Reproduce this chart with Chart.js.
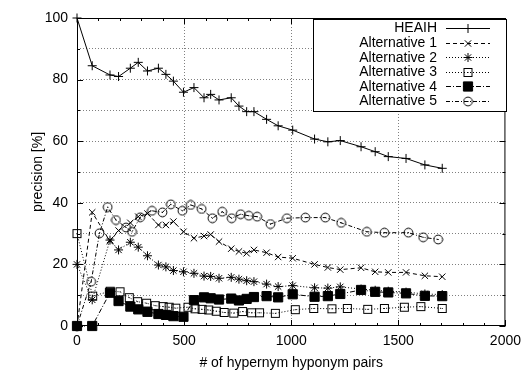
<!DOCTYPE html>
<html>
<head>
<meta charset="utf-8">
<script src="https://cdn.jsdelivr.net/npm/chart.js@4/dist/chart.umd.min.js"></script>
<style>
  html, body { margin: 0; padding: 0; background: #fff; }
  #wrap { width: 528px; height: 370px; }
</style>
</head>
<body>
<div id="wrap"><canvas id="c" width="528" height="370"></canvas></div>
<script>
// ---- data ----
const seriesNames = ['HEAIH', 'Alternative 1', 'Alternative 2', 'Alternative 3', 'Alternative 4', 'Alternative 5'];
const sharedX = [0,71,154,194,249,286,329,380,415,450,497,546,593,624,663,720,756,792,826,885,939,1007,1109,1171,1229,1326,1392,1453,1536,1624,1705];
const heaihY = [100,84.5,81.5,81,83.7,85.6,82.8,83.7,81.7,79.5,75.9,77.4,74.1,75.2,73.4,74.1,71.4,69.6,69.6,67.1,65,63.6,60.7,59.8,60.2,58.2,56.6,55,54.4,52.3,51.2];
const alt1Y = [0,36.9,27.5,31,33.5,35.5,36.5,32.8,32.8,33.9,30.6,28.5,29.2,29.7,27.4,25.1,24.2,23.6,24.7,23.8,22.4,22,20,19,18.3,18.9,17.6,17.4,17.4,16.3,16];
const alt2Y = [20,8.5,27.9,24.7,27.2,25.6,22.8,19.8,19.2,18,17.6,17.1,16.2,16.1,15.5,15.8,15.2,14.7,14.4,13.6,12.8,13.1,12.4,12.3,12.7,12.0,11.6,11.3,11.0,10.4,10.2];
const alt4Y = [0,0,10.8,8.1,6.3,5.4,4.6,3.9,3.6,3.2,3.0,8.4,9.3,9.0,8.6,8.9,8.3,8.8,9.4,9.7,9.3,10.3,9.5,9.7,10.4,11.7,11.1,10.9,10.6,9.8,9.7];
const alt3X = [0,73,155,201,244,283,325,365,402,430,461,518,551,584,615,650,687,732,773,815,852,926,1019,1105,1190,1262,1357,1435,1528,1605,1705];
const alt3Y = [30,9.7,11.3,11.1,9.2,7.9,7.4,6.6,6.3,6.1,5.8,6.1,5.6,5.4,5.2,4.8,4.4,4.2,4.7,4.3,4.3,4.1,5.3,5.7,5.6,5.7,5.4,5.7,6.1,6.3,5.7];
const alt5X = [0,66,105,143,182,229,257,295,350,399,438,492,531,582,632,678,722,764,802,841,903,980,1066,1159,1233,1353,1435,1547,1616,1686];
const alt5Y = [0,14.4,30.1,38.6,34.4,32,30.6,35.3,37.4,36.9,39.5,37.4,39.3,38,35,37.1,35,36.3,35.8,35.5,33.1,35,35.2,35.2,33.5,30.6,30.3,30.3,28.8,28.1];
const xTickLabels = [0, 500, 1000, 1500, 2000];
const yTickLabels = [0, 20, 40, 60, 80, 100];
const xTitle = '# of hypernym hyponym pairs';
const yTitle = 'precision [%]';

const FONT = '"Liberation Sans", Arial, Helvetica, sans-serif';

function pts(xs, ys) { return xs.map((x, i) => ({ x: x, y: ys[i] })); }

// marker images (gnuplot style with centre dot)
function boxDot() {
  const c = document.createElement('canvas'); c.width = 11; c.height = 11;
  const g = c.getContext('2d');
  g.strokeStyle = '#000'; g.lineWidth = 1;
  g.strokeRect(1.5, 1.5, 8, 8);
  g.fillStyle = '#000'; g.fillRect(5, 5, 1, 1);
  return c;
}
function circDot() {
  const c = document.createElement('canvas'); c.width = 11; c.height = 11;
  const g = c.getContext('2d');
  g.strokeStyle = '#000'; g.lineWidth = 1;
  g.beginPath(); g.arc(5.5, 5.5, 4.4, 0, Math.PI * 2); g.stroke();
  g.fillStyle = '#000'; g.fillRect(5, 5, 1, 1);
  return c;
}
const boxImg = boxDot();
const circImg = circDot();

const datasets = [
  { label: seriesNames[0], data: pts(sharedX, heaihY), borderDash: [], pointStyle: 'cross', pointRadius: 4.5, order: 1 },
  { label: seriesNames[1], data: pts(sharedX, alt1Y), borderDash: [4, 3], pointStyle: 'crossRot', pointRadius: 4.5, order: 2 },
  { label: seriesNames[2], data: pts(sharedX, alt2Y), borderDash: [1, 2], pointStyle: 'star', pointRadius: 4.5, order: 3 },
  { label: seriesNames[3], data: pts(alt3X, alt3Y), borderDash: [1, 2], pointStyle: boxImg, pointRadius: 5, order: 5 },
  { label: seriesNames[4], data: pts(sharedX, alt4Y), borderDash: [5, 2, 1, 2], pointStyle: 'rect', pointRadius: 6.5, order: 0, filled: true },
  { label: seriesNames[5], data: pts(alt5X, alt5Y), borderDash: [4, 2, 1, 2], pointStyle: circImg, pointRadius: 5, order: 4 }
].map(d => Object.assign({
  showLine: true,
  borderColor: '#000',
  borderWidth: 1,
  backgroundColor: d.filled ? '#000' : 'rgba(0,0,0,0)',
  pointBackgroundColor: d.filled ? '#000' : 'rgba(0,0,0,0)',
  pointBorderColor: '#000',
  pointBorderWidth: 1,
  pointHoverRadius: d.pointRadius,
  tension: 0,
  fill: false,
  clip: false
}, d));

const AREA = { left: 77, top: 18, right: 508, bottom: 326 };

const framePlugin = {
  id: 'frame',
  afterDatasetsDraw(chart) {
    const ctx = chart.ctx;
    const a = chart.chartArea;
    const xs = chart.scales.x, ys = chart.scales.y;
    ctx.save();
    ctx.strokeStyle = '#000';
    ctx.lineWidth = 1;
    ctx.setLineDash([]);
    ctx.strokeRect(a.left + 0.5, a.top + 0.5, a.right - a.left - 1, a.bottom - a.top - 1);
    ctx.beginPath();
    for (let v = 0; v <= 2000; v += 100) {
      const px = Math.round(xs.getPixelForValue(v)) + 0.5;
      const len = (v % 500 === 0) ? 6 : 3;
      ctx.moveTo(px, a.bottom); ctx.lineTo(px, a.bottom - len);
      ctx.moveTo(px, a.top); ctx.lineTo(px, a.top + len);
    }
    for (let v = 0; v <= 100; v += 10) {
      const py = Math.round(ys.getPixelForValue(v)) + 0.5;
      const len = (v % 20 === 0) ? 6 : 3;
      ctx.moveTo(a.left, py); ctx.lineTo(a.left + len, py);
      ctx.moveTo(a.right, py); ctx.lineTo(a.right - len, py);
    }
    ctx.stroke();
    ctx.restore();
  },
  afterDraw(chart) {
    const ctx = chart.ctx;
    const box = { l: 313.5, t: 19.5, r: 506.5, b: 111.5 };
    ctx.save();
    ctx.fillStyle = '#fff';
    ctx.fillRect(box.l, box.t, box.r - box.l, box.b - box.t);
    ctx.strokeStyle = '#000'; ctx.lineWidth = 1; ctx.setLineDash([]);
    ctx.strokeRect(box.l, box.t, box.r - box.l, box.b - box.t);
    ctx.font = '14px ' + FONT;
    ctx.textAlign = 'right';
    ctx.textBaseline = 'middle';
    const rowH = 14.6;
    chart.data.datasets.forEach((ds, i) => {
      const y = box.t + 8.5 + i * rowH;
      ctx.fillStyle = '#000';
      ctx.fillText(ds.label, 437, y + 0.5);
      ctx.save();
      ctx.strokeStyle = '#000'; ctx.lineWidth = 1;
      ctx.setLineDash(ds.borderDash);
      ctx.beginPath(); ctx.moveTo(446, Math.round(y) + 0.5); ctx.lineTo(490, Math.round(y) + 0.5); ctx.stroke();
      ctx.setLineDash([]);
      ctx.fillStyle = ds.pointBackgroundColor;
      Chart.helpers.drawPoint(ctx, { pointStyle: ds.pointStyle, radius: ds.pointRadius, rotation: 0, borderWidth: 1 }, 468, Math.round(y) + 0.5);
      ctx.restore();
    });
    ctx.restore();
  }
};

new Chart(document.getElementById('c'), {
  type: 'scatter',
  data: { datasets },
  options: {
    responsive: false,
    animation: false,
    devicePixelRatio: 1,
    layout: { padding: { left: 0, top: AREA.top, right: 528 - AREA.right, bottom: 0 } },
    plugins: { legend: { display: false }, tooltip: { enabled: false } },
    scales: {
      x: {
        type: 'linear', min: 0, max: 2000,
        afterFit(s) { s.height = 370 - AREA.bottom; },
        afterBuildTicks(s) { s.ticks = xTickLabels.map(v => ({ value: v })); },
        ticks: { color: '#000', font: { family: FONT, size: 14 }, padding: 7, maxRotation: 0, autoSkip: false,
          callback: v => String(v) },
        grid: {
          drawTicks: false,
          color: ctx => (ctx.tick && ctx.tick.value > 0 && ctx.tick.value < 2000) ? '#808080' : 'rgba(0,0,0,0)',
          lineWidth: 1
        },
        border: { display: false, dash: [1, 2] },
        title: { display: true, text: xTitle, color: '#000', font: { family: FONT, size: 14, lineHeight: 1 }, padding: { top: 0, bottom: 0 } }
      },
      y: {
        type: 'linear', min: 0, max: 100,
        afterFit(s) { s.width = AREA.left; },
        afterBuildTicks(s) { const t = []; for (let v = 0; v <= 100; v += 10) t.push({ value: v }); s.ticks = t; },
        ticks: {
          color: '#000', font: { family: FONT, size: 14 }, padding: 9, autoSkip: false,
          callback: v => (yTickLabels.indexOf(v) >= 0 ? String(v) : '')
        },
        grid: {
          drawTicks: false,
          color: ctx => (ctx.tick && ctx.tick.value > 0 && ctx.tick.value < 100) ? '#808080' : 'rgba(0,0,0,0)',
          lineWidth: 1
        },
        border: { display: false, dash: [1, 2] },
        title: { display: true, text: yTitle, color: '#000', font: { family: FONT, size: 14, lineHeight: 1 }, padding: { top: 31, bottom: 0 } }
      }
    }
  },
  plugins: [framePlugin]
});
</script>
</body>
</html>
